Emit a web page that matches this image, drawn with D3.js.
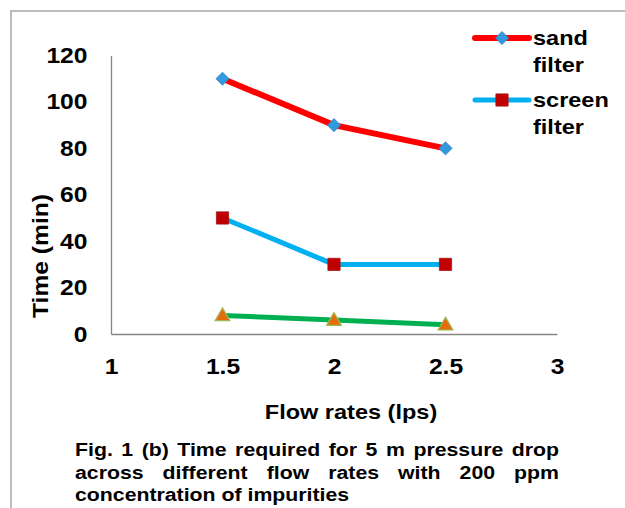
<!DOCTYPE html>
<html>
<head>
<meta charset="utf-8">
<script src="https://cdn.jsdelivr.net/npm/d3@7"></script>
<style>
  body { margin: 0; background: #fff; }
  svg { font-family: "Liberation Sans", Arial, sans-serif; font-weight: bold; }
</style>
</head>
<body>
<svg id="chart" width="625" height="508"></svg>
<script>
// data
const flowRates = [1.5, 2, 2.5];
const sandFilter = [110, 90, 80];
const screenFilter = [50, 30, 30];
const thirdSeries = [8, 6, 4];
const xTicks = [1, 1.5, 2, 2.5, 3];
const yTicks = [0, 20, 40, 60, 80, 100, 120];
const legendLabels = [["sand", "filter"], ["screen", "filter"]];
const captionLines = [
  "Fig. 1 (b) Time required for 5 m pressure drop",
  "across different flow rates with 200 ppm",
  "concentration of impurities"
];

const STRETCH = 1.12;
const svg = d3.select('#chart');

// outer frame
svg.append('rect')
  .attr('x', 11).attr('y', 11)
  .attr('width', 700).attr('height', 600)
  .attr('fill', 'none').attr('stroke', '#a6a6a6').attr('stroke-width', 1.5);

const x = d3.scaleLinear().domain([1, 3]).range([111, 557]);
const y = d3.scaleLinear().domain([0, 120]).range([334, 55.5]);

// axes
const yAxis = svg.append('g')
  .attr('transform', 'translate(111,0)')
  .call(d3.axisLeft(y).tickValues(yTicks).tickSize(0).tickPadding(21));
const xAxis = svg.append('g')
  .attr('transform', 'translate(0,334)')
  .call(d3.axisBottom(x).tickValues(xTicks).tickSize(0).tickPadding(24)
    .tickFormat(d3.format('')));

[xAxis, yAxis].forEach(g => {
  g.select('.domain').attr('stroke', '#868686').attr('stroke-width', 1.3);
  g.selectAll('text')
    .attr('fill', '#000')
    .style('font-size', '22px')
    .style('font-family', '"Liberation Sans", Arial, sans-serif')
    .style('font-weight', 'bold')
    .attr('transform', `scale(${STRETCH},1)`);
});

// axis titles
svg.append('text')
  .attr('transform', `translate(48,256) rotate(-90) scale(${STRETCH},1)`)
  .attr('text-anchor', 'middle')
  .style('font-size', '22px')
  .text('Time (min)');

svg.append('text')
  .attr('transform', `translate(351,419) scale(${STRETCH},1)`)
  .attr('text-anchor', 'middle')
  .style('font-size', '21px')
  .text('Flow rates (lps)');

// series
const line = d3.line().x((d, i) => x(flowRates[i])).y(d => y(d));

svg.append('path').datum(sandFilter)
  .attr('d', line).attr('fill', 'none')
  .attr('stroke', '#ff0000').attr('stroke-width', 6);
svg.append('path').datum(screenFilter)
  .attr('d', line).attr('fill', 'none')
  .attr('stroke', '#00b0f0').attr('stroke-width', 5);
svg.append('path').datum(thirdSeries)
  .attr('d', line).attr('fill', 'none')
  .attr('stroke', '#00b050').attr('stroke-width', 5);

const diamond = d3.symbol().type(d3.symbolDiamond2).size(110);
const square = d3.symbol().type(d3.symbolSquare).size(150);
const triangle = d3.symbol().type(d3.symbolTriangle).size(95);

svg.append('g').selectAll('path').data(sandFilter).join('path')
  .attr('d', diamond)
  .attr('transform', (d, i) => `translate(${x(flowRates[i])},${y(d)})`)
  .attr('fill', '#2f9ade').attr('stroke', '#3d7fc0').attr('stroke-width', 0.8);

svg.append('g').selectAll('path').data(screenFilter).join('path')
  .attr('d', square)
  .attr('transform', (d, i) => `translate(${x(flowRates[i])},${y(d)})`)
  .attr('fill', '#c00000').attr('stroke', '#a31515').attr('stroke-width', 0.8);

svg.append('g').selectAll('path').data(thirdSeries).join('path')
  .attr('d', triangle)
  .attr('transform', (d, i) => `translate(${x(flowRates[i])},${y(d) + 1})`)
  .attr('fill', '#e46c0a').attr('stroke', '#9bbb59').attr('stroke-width', 1.2);

// legend
const legend = svg.append('g');
const legendRows = [
  { y: 38, color: '#ff0000', w: 6, sym: diamond, fill: '#2f9ade', stroke: '#3d7fc0' },
  { y: 100, color: '#00b0f0', w: 5, sym: square, fill: '#c00000', stroke: '#a31515' }
];
legendRows.forEach((r, i) => {
  legend.append('line')
    .attr('x1', 475).attr('x2', 529).attr('y1', r.y).attr('y2', r.y)
    .attr('stroke', r.color).attr('stroke-width', r.w).attr('stroke-linecap', 'round');
  legend.append('path').attr('d', r.sym)
    .attr('transform', `translate(502,${r.y})`)
    .attr('fill', r.fill).attr('stroke', r.stroke).attr('stroke-width', 0.8);
  legendLabels[i].forEach((t, j) => {
    legend.append('text')
      .attr('transform', `translate(533,${r.y + 7 + j * 27}) scale(${STRETCH},1)`)
      .style('font-size', '21px')
      .text(t);
  });
});

// caption, justified like the source
const capLeft = 75, capRight = 559;
const capBase = [456, 479, 501];
captionLines.forEach((txt, li) => {
  const g = svg.append('g')
    .attr('transform', `translate(${capLeft},${capBase[li]}) scale(${STRETCH},1)`);
  const words = txt.split(' ');
  const nodes = words.map(w => g.append('text').style('font-size', '19px').text(w));
  const widths = nodes.map(n => n.node().getComputedTextLength());
  const total = widths.reduce((a, b) => a + b, 0);
  const avail = (capRight - capLeft) / STRETCH;
  const justify = li < captionLines.length - 1;
  const gap = justify ? (avail - total) / (words.length - 1) : 5.3;
  let cx = 0;
  nodes.forEach((n, k) => { n.attr('x', cx); cx += widths[k] + gap; });
});
</script>
</body>
</html>
